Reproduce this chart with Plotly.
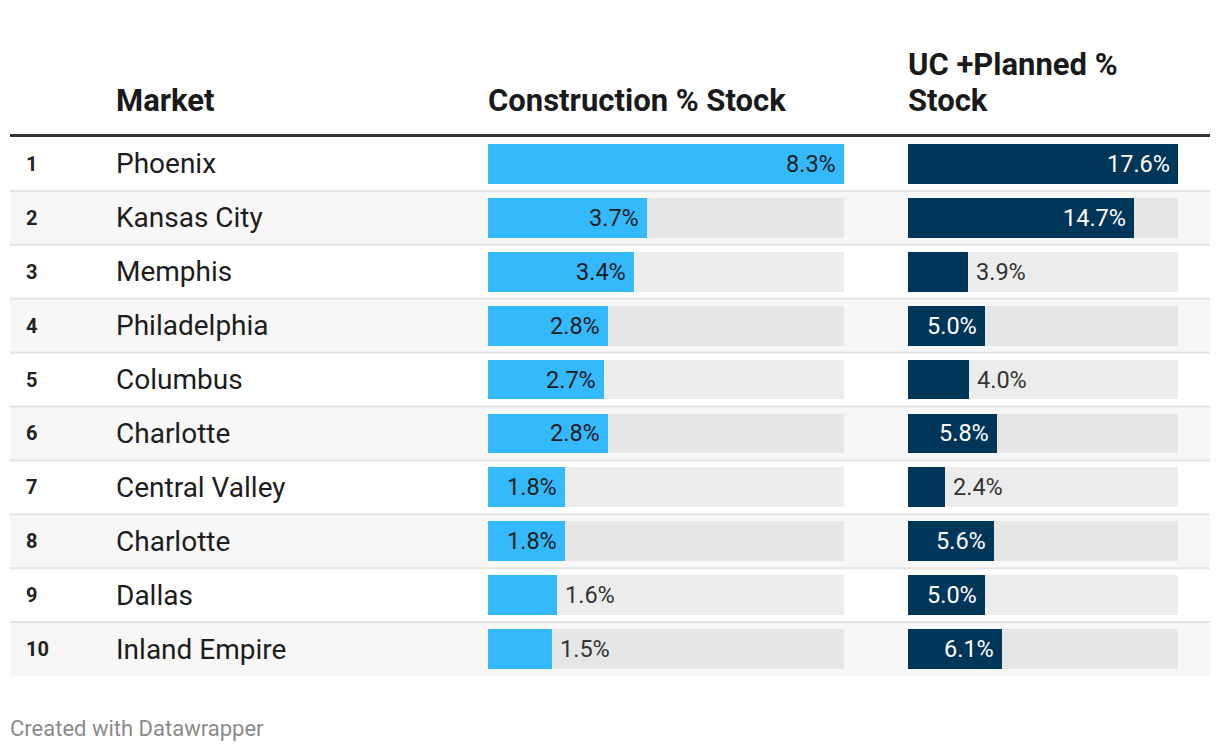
import plotly.graph_objects as go

# ---------------- data ----------------
ranks = [1, 2, 3, 4, 5, 6, 7, 8, 9, 10]
markets = ["Phoenix", "Kansas City", "Memphis", "Philadelphia", "Columbus",
           "Charlotte", "Central Valley", "Charlotte", "Dallas", "Inland Empire"]
construction_pct = [8.3, 3.7, 3.4, 2.8, 2.7, 2.8, 1.8, 1.8, 1.6, 1.5]
uc_planned_pct = [17.6, 14.7, 3.9, 5.0, 4.0, 5.8, 2.4, 5.6, 5.0, 6.1]
headers = ["Market", "Construction % Stock", "UC +Planned %<br>Stock"]
footer = "Created with Datawrapper"

# ---------------- layout constants ----------------
# page body has an 8px default margin; the figure is sized to fit inside it
OX, OY = 8, 8
W, H = 1220 - 2 * OX, 752 - 2 * OY
FONT = "Roboto"
LIGHT_BLUE = "#35b9fd"
NAVY = "#01365b"
TEXT = "#1d1d1d"


def px(x):
    return (x - OX) / W


def py(y):
    return 1 - (y - OY) / H


TABLE_L, TABLE_R = 10, 1210
ROW_TOP, ROW_BOT = 137, 676
COL1 = (488, 844)
COL2 = (908, 1178)
LABEL_MIN_PX = 72
HEADER_LINE_H = 36

fig = go.Figure()
annotations = []


def add_bar_column(values, xaxis, xref, col, bar_color, inside_color):
    vmax = max(values)
    colw = col[1] - col[0]
    bg_colors = ["#ececec" if r % 2 == 1 else "#e6e6e6" for r in ranks]
    fig.add_trace(go.Bar(
        y=ranks, x=[vmax] * len(values), orientation="h",
        xaxis=xaxis, yaxis="y", width=0.74,
        marker=dict(color=bg_colors, line=dict(width=0)),
        hoverinfo="skip", showlegend=False,
    ))
    fig.add_trace(go.Bar(
        y=ranks, x=values, orientation="h",
        xaxis=xaxis, yaxis="y", width=0.74,
        marker=dict(color=bar_color, line=dict(width=0)),
        hoverinfo="skip", showlegend=False,
    ))
    for r, v in zip(ranks, values):
        inside = v / vmax * colw >= LABEL_MIN_PX
        annotations.append(dict(
            text=f"{v:.1f}%", x=v, y=r, xref=xref, yref="y",
            xanchor="right" if inside else "left", yanchor="middle",
            xshift=-6 if inside else 6, showarrow=False,
            font=dict(family=FONT, size=23.5, color=inside_color if inside else "#333333"),
        ))


add_bar_column(construction_pct, "x", "x", COL1, LIGHT_BLUE, TEXT)
add_bar_column(uc_planned_pct, "x2", "x2", COL2, NAVY, "#ffffff")

shapes = []
# row backgrounds (even rows shaded)
for r in ranks:
    if r % 2 == 0:
        shapes.append(dict(type="rect", xref="paper", yref="y",
                           x0=px(TABLE_L), x1=px(TABLE_R), y0=r - 0.5, y1=r + 0.5,
                           fillcolor="#f7f7f7", line=dict(width=0), layer="below"))
# separators
for r in ranks[:-1]:
    shapes.append(dict(type="line", xref="paper", yref="y",
                       x0=px(TABLE_L), x1=px(TABLE_R), y0=r + 0.5, y1=r + 0.5,
                       line=dict(color="#e4e4e4", width=2), layer="below"))
# header rule
shapes.append(dict(type="line", xref="paper", yref="paper",
                   x0=px(TABLE_L), x1=px(TABLE_R), y0=py(135.5), y1=py(135.5),
                   line=dict(color="#333333", width=3)))

for r, m in zip(ranks, markets):
    annotations.append(dict(text=f"<b>{r}</b>", x=px(24), y=r, xref="paper", yref="y",
                            xanchor="left", yanchor="middle", showarrow=False,
                            font=dict(family=FONT, size=20, color="#222222")))
    annotations.append(dict(text=m, x=px(114), y=r, xref="paper", yref="y",
                            xanchor="left", yanchor="middle", showarrow=False,
                            font=dict(family=FONT, size=28, color=TEXT)))
for hx, h in zip([114, 486, 906], headers):
    lines = h.split("<br>")
    for i, line in enumerate(reversed(lines)):
        annotations.append(dict(text=f"<b>{line}</b>", x=px(hx), y=py(121), xref="paper", yref="paper",
                                xanchor="left", yanchor="bottom", align="left", showarrow=False,
                                yshift=i * HEADER_LINE_H,
                                font=dict(family=FONT, size=31, color="#1a1a1a")))
annotations.append(dict(text=footer, x=px(8), y=py(728), xref="paper", yref="paper",
                        xanchor="left", yanchor="middle", showarrow=False,
                        font=dict(family=FONT, size=22, color="#8a8a8a")))

fig.update_layout(
    width=W, height=H, autosize=False,
    margin=dict(l=0, r=0, t=0, b=0, pad=0),
    paper_bgcolor="white", plot_bgcolor="rgba(0,0,0,0)",
    barmode="overlay", bargap=0,
    showlegend=False,
    xaxis=dict(domain=[px(COL1[0]), px(COL1[1])], range=[0, max(construction_pct)],
               visible=False, fixedrange=True, anchor="y"),
    xaxis2=dict(domain=[px(COL2[0]), px(COL2[1])], range=[0, max(uc_planned_pct)],
                visible=False, fixedrange=True, anchor="y"),
    yaxis=dict(domain=[py(ROW_BOT), py(ROW_TOP)], range=[10.5, 0.5],
               visible=False, fixedrange=True),
    shapes=shapes, annotations=annotations,
    font=dict(family=FONT),
)

fig.write_html("out.html", config={"displayModeBar": False})
